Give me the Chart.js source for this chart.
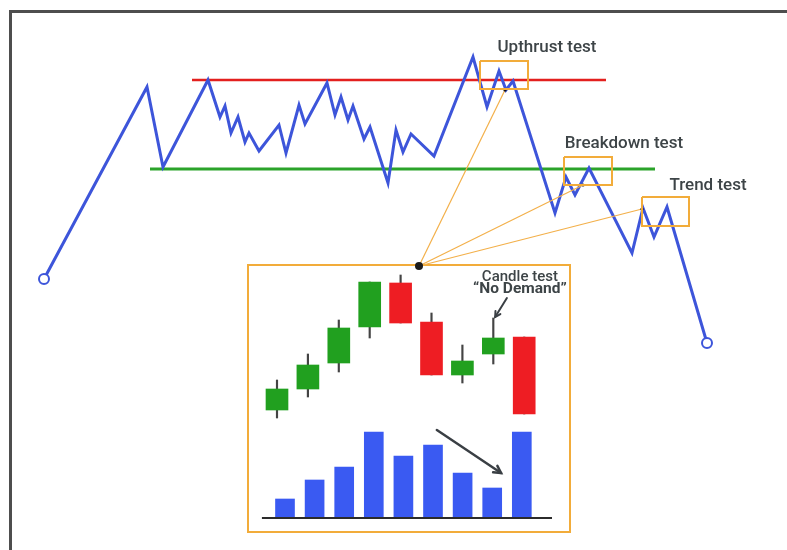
<!DOCTYPE html>
<html>
<head>
<meta charset="utf-8">
<script src="https://cdn.jsdelivr.net/npm/chart.js@4.4.1/dist/chart.umd.min.js"></script>
<style>
  html, body { margin: 0; padding: 0; background: #fff; overflow: hidden; }
  body { width: 787px; height: 550px; position: relative; font-family: Roboto, sans-serif; }
  #frame { position: absolute; left: 9px; top: 10px; width: 900px; height: 700px;
           border-left: 3px solid #4e4e4e; border-top: 3px solid #4e4e4e; }
  #insetBox { position: absolute; left: 247px; top: 264px; width: 320px; height: 265px;
              border: 2px solid #f2ac3a; }
  #insetWrap { position: absolute; left: 248px; top: 265px; width: 322px; height: 267px; }
  #mainWrap { position: absolute; left: 0; top: 0; width: 787px; height: 550px; z-index: 5; }
</style>
</head>
<body>
<div id="frame"></div>
<div id="insetBox"></div>
<div id="insetWrap"><canvas id="insetChart" width="322" height="267"></canvas></div>
<div id="mainWrap"><canvas id="mainChart" width="787" height="550"></canvas></div>

<script>
// ---- main price path (time, price) ----
const pathTime  = [44,147,163,208,220,225,231,238,245,249,259,279,286,299,305,327,335,341,348,353,364,370,388,396,403,411,434,473,487,499,506,513,555,566,575,589,632,643,654,667,707];
const pathPrice = [271,463,383,470,433,444,417,433,408,417,399,425,397,445,426,467,435,453,430,444,411,423,367,420,398,416,394,493,443,479,460,469,337,373,355,382,297,342,313,343,207];

// resistance / support levels
const resistance = { from: 192, to: 606, price: 470 };
const support    = { from: 150, to: 655, price: 381 };

// test zones
const zoneNames  = ['Upthrust test', 'Breakdown test', 'Trend test'];
const zoneStart  = [480, 564, 642];
const zoneEnd    = [528, 612, 689];
const zoneTop    = [489, 393, 353];
const zoneBottom = [461, 365, 324];
const labelTime  = [547, 624, 708];
const labelPrice = [502, 406, 364];

// connectors from the inset to each zone
const hub = { time: 419, price: 284 };
const linkTime  = [505, 583, 642];
const linkPrice = [460, 365, 341];

// ---- inset: candles and volume ----
const candleIdx = [1, 2, 3, 4, 5, 6, 7, 8, 9];
const openP  = [20, 41, 67, 103, 147, 108, 55, 76, 93];
const closeP = [41, 65, 102, 148, 107, 55, 69, 92, 16];
const highP  = [50, 76, 110, 148, 155, 117, 85, 112, 93];
const lowP   = [12, 33, 58, 92, 107, 55, 47, 66, 16];
const volume = [19, 38, 51, 86, 62, 73, 45, 30, 86];

const BLUE = '#3d55da';
const ORANGE = '#f2ac3a';
const TEXT = '#3d4447';

// main chart datasets
const zoneSets = zoneNames.map((n, i) => ({
    label: n,
    data: [
        { x: zoneStart[i], y: zoneTop[i] }, { x: zoneEnd[i], y: zoneTop[i] },
        { x: zoneEnd[i], y: zoneBottom[i] }, { x: zoneStart[i], y: zoneBottom[i] },
        { x: zoneStart[i], y: zoneTop[i] }
    ],
    borderColor: ORANGE, borderWidth: 2, pointRadius: 0, tension: 0
}));

const linkSets = linkTime.map((t, i) => ({
    label: 'link' + i,
    data: [{ x: hub.time, y: hub.price }, { x: t, y: linkPrice[i] }],
    borderColor: '#f3b04a', borderWidth: 1.2,
    pointRadius: [0, 1.6], pointBackgroundColor: '#111', pointBorderWidth: 0
}));

const mainLabels = {
    id: 'mainLabels',
    afterDatasetsDraw(chart) {
        const { ctx, scales: { x, y } } = chart;
        ctx.save();
        ctx.fillStyle = TEXT;
        ctx.font = '500 17px Roboto';
        ctx.textAlign = 'center';
        ctx.textBaseline = 'middle';
        zoneNames.forEach((n, i) => ctx.fillText(n, x.getPixelForValue(labelTime[i]), y.getPixelForValue(labelPrice[i])));
        ctx.restore();
    }
};

new Chart(document.getElementById('mainChart'), {
    type: 'line',
    data: {
        datasets: [
            ...zoneSets,
            {
                label: 'hub',
                data: [{ x: hub.time, y: hub.price }],
                showLine: false, pointRadius: 4, pointBackgroundColor: '#1c1c1c', pointBorderWidth: 0
            },
            ...linkSets,
            {
                label: 'price',
                data: pathTime.map((t, i) => ({ x: t, y: pathPrice[i] })),
                borderColor: BLUE, borderWidth: 3, tension: 0,
                pointRadius: pathTime.map((t, i) => (i === 0 || i === pathTime.length - 1) ? 5 : 0),
                pointBackgroundColor: '#fff', pointBorderColor: BLUE, pointBorderWidth: 2
            },
            {
                label: 'resistance',
                data: [{ x: resistance.from, y: resistance.price }, { x: resistance.to, y: resistance.price }],
                borderColor: '#e3201e', borderWidth: 2.5, pointRadius: 0
            },
            {
                label: 'support',
                data: [{ x: support.from, y: support.price }, { x: support.to, y: support.price }],
                borderColor: '#2ba32a', borderWidth: 3, pointRadius: 0
            }
        ]
    },
    options: {
        responsive: false,
        animation: false,
        layout: { padding: 0, autoPadding: false },
        plugins: { legend: { display: false }, tooltip: { enabled: false } },
        scales: {
            x: { type: 'linear', min: 0, max: 787, display: false, offset: false },
            y: { type: 'linear', min: 0, max: 550, display: false, offset: false }
        }
    },
    plugins: [mainLabels]
});

// inset annotations: arrows and "No Demand" label
function arrow(ctx, x1, y1, x2, y2, head, width) {
    const a = Math.atan2(y2 - y1, x2 - x1);
    ctx.lineWidth = width;
    ctx.beginPath();
    ctx.moveTo(x1, y1);
    ctx.lineTo(x2, y2);
    ctx.stroke();
    ctx.beginPath();
    ctx.moveTo(x2 - head * Math.cos(a - 0.5), y2 - head * Math.sin(a - 0.5));
    ctx.lineTo(x2, y2);
    ctx.lineTo(x2 - head * Math.cos(a + 0.5), y2 - head * Math.sin(a + 0.5));
    ctx.stroke();
}

const insetNotes = {
    id: 'insetNotes',
    afterDatasetsDraw(chart) {
        const { ctx, scales } = chart;
        const xc = scales.xC, yc = scales.yC, xv = scales.xV, yv = scales.yV;
        ctx.save();
        ctx.strokeStyle = '#3a3f44';
        ctx.lineCap = 'round';
        arrow(ctx, xv.getPixelForValue(6.13), yv.getPixelForValue(88), xv.getPixelForValue(8.3), yv.getPixelForValue(45), 8, 2.5);
        arrow(ctx, xc.getPixelForValue(8.44), yc.getPixelForValue(132), xc.getPixelForValue(8.06), yc.getPixelForValue(113), 6, 2);
        ctx.fillStyle = TEXT;
        ctx.textAlign = 'center';
        ctx.textBaseline = 'middle';
        ctx.font = '500 15px Roboto';
        ctx.fillText('Candle test', xc.getPixelForValue(8.86), yc.getPixelForValue(153));
        ctx.font = 'bold 15.5px Roboto';
        ctx.fillText('\u201CNo Demand\u201D', xc.getPixelForValue(8.86), yc.getPixelForValue(141));
        ctx.restore();
    }
};

new Chart(document.getElementById('insetChart'), {
    data: {
        datasets: [
            {
                type: 'bar', label: 'body', xAxisID: 'xC', yAxisID: 'yC', grouped: false,
                data: candleIdx.map((c, i) => ({ x: c, y: [openP[i], closeP[i]] })),
                backgroundColor: candleIdx.map((c, i) => closeP[i] >= openP[i] ? '#21a01f' : '#ee1d23'),
                barThickness: 22, borderWidth: 0
            },
            {
                type: 'bar', label: 'wick', xAxisID: 'xC', yAxisID: 'yC', grouped: false,
                data: candleIdx.map((c, i) => ({ x: c, y: [lowP[i], highP[i]] })),
                backgroundColor: '#444', barThickness: 1.5, borderWidth: 0
            },
            {
                type: 'line', label: 'base', xAxisID: 'xV', yAxisID: 'yV',
                data: [{ x: 0.22, y: 0 }, { x: 10.02, y: 0 }],
                borderColor: '#2b2b2b', borderWidth: 2, pointRadius: 0
            },
            {
                type: 'bar', label: 'volume', xAxisID: 'xV', yAxisID: 'yV', grouped: false,
                data: candleIdx.map((c, i) => ({ x: c, y: volume[i] })),
                backgroundColor: '#3a5af2', barThickness: 19, borderWidth: 0
            }
        ]
    },
    options: {
        responsive: false,
        animation: false,
        layout: { padding: 0, autoPadding: false },
        plugins: { legend: { display: false }, tooltip: { enabled: false } },
        scales: {
            xC: { type: 'linear', axis: 'x', min: 0.0615, max: 10.482, display: false, offset: false },
            xV: { type: 'linear', axis: 'x', min: -0.25, max: 10.628, display: false, offset: false },
            yC: { type: 'linear', axis: 'y', min: -102, max: 165, display: false, offset: false },
            yV: { type: 'linear', axis: 'y', min: -14, max: 253, display: false, offset: false }
        }
    },
    plugins: [insetNotes]
});
</script>
</body>
</html>
